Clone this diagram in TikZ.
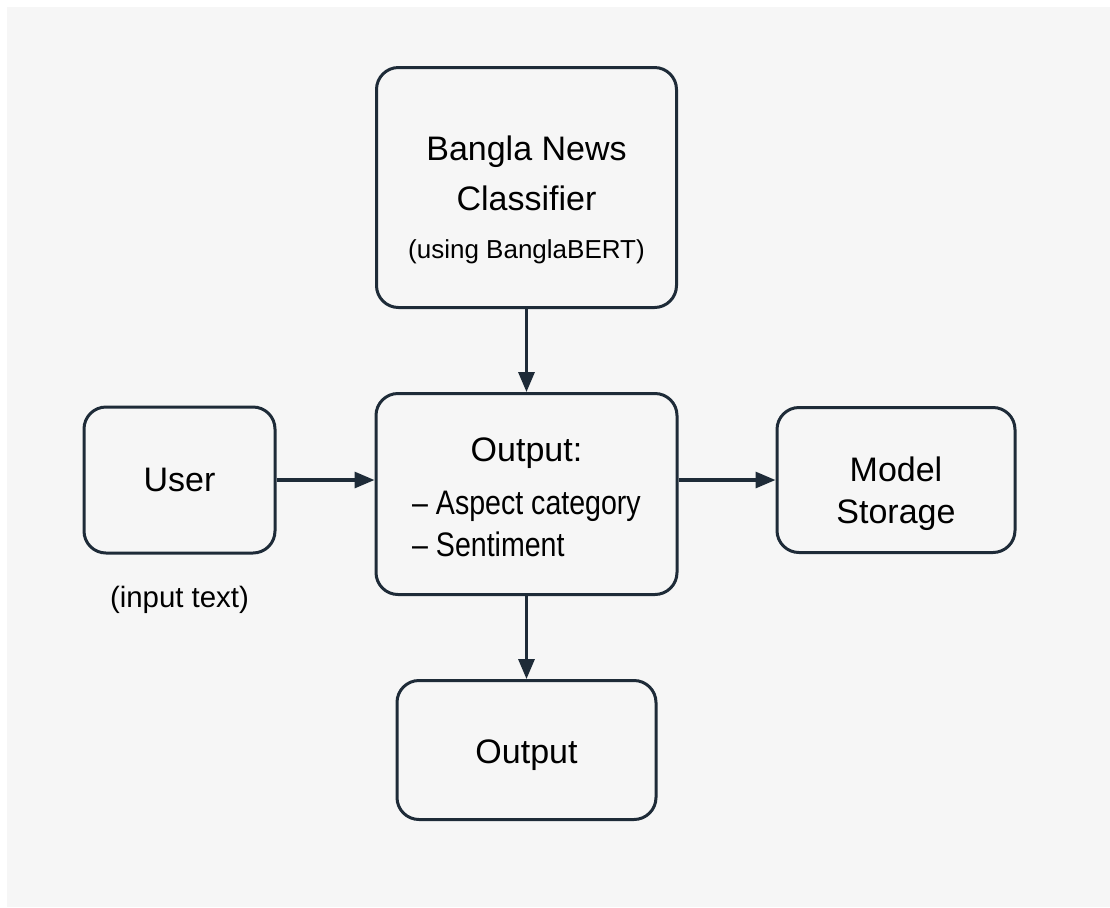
\documentclass[tikz,border=0pt]{standalone}
\usepackage{fontspec}
\setmainfont{Liberation Sans}
\newfontfamily\narrowsans{Liberation Sans}[FakeStretch=0.84]
\usetikzlibrary{positioning,arrows.meta}
\definecolor{InkNavy}{RGB}{30,43,56}
\definecolor{PaperGray}{RGB}{246,246,246}
\tikzset{
  flow/.style={-{Triangle[length=10pt,width=8pt]},line width=1.6pt,draw=InkNavy},
  box/.style={draw=InkNavy,line width=1.5pt,rounded corners=11pt,
    align=center,inner sep=0pt,text=black,font=\fontsize{17}{21}\selectfont},
  note/.style={inner sep=0pt,text=black,font=\fontsize{14.7}{17}\selectfont}
}

\begin{document}
\begin{tikzpicture}[x=0.5pt,y=-0.5pt]
  % page and grey sheet
  \useasboundingbox (0,0) rectangle (1110,907);
  \fill[white] (0,0) rectangle (1110,907);
  \fill[PaperGray] (7,7) rectangle (1110,907);

  \node[box,minimum width=150.5pt,minimum height=100.5pt] (result) at (526.5,494) {
    \rule{0pt}{18.5pt}Output:\\[5.5pt]
    {\narrowsans \textendash{} Aspect category}\\
    {\narrowsans\rlap{\textendash{} Sentiment}\phantom{\textendash{} Aspect category}}
  };
  \node[box,above=41.5pt of result,minimum width=150pt,minimum height=120pt,
    font=\fontsize{17}{25}\selectfont] (classifier) {
    \rule{0pt}{24.4pt}Bangla News\\
    Classifier\\[-1pt]
    {\fontsize{13}{14}\selectfont (using BanglaBERT)}
  };
  \node[box,left=49pt of result,yshift=7pt,minimum width=95.5pt,minimum height=73pt] (user) {User};
  \node[note,below=15.5pt of user] (usernote) {(input text)};
  \node[box,right=48.5pt of result,yshift=7pt,minimum width=119pt,minimum height=72.5pt] (storage) {
    \rule{0pt}{26.4pt}Model\\
    Storage
  };
  \node[box,below=41.5pt of result,minimum width=129.5pt,minimum height=69.5pt] (final) {\rule{0pt}{17.4pt}Output};

  \draw[flow] (classifier) -- (result);
  \draw[flow] (result) -- (final);
  \draw[flow] (user) -- (user -| result.west);
  \draw[flow] (result.east |- storage) -- (storage);
\end{tikzpicture}
\end{document}
